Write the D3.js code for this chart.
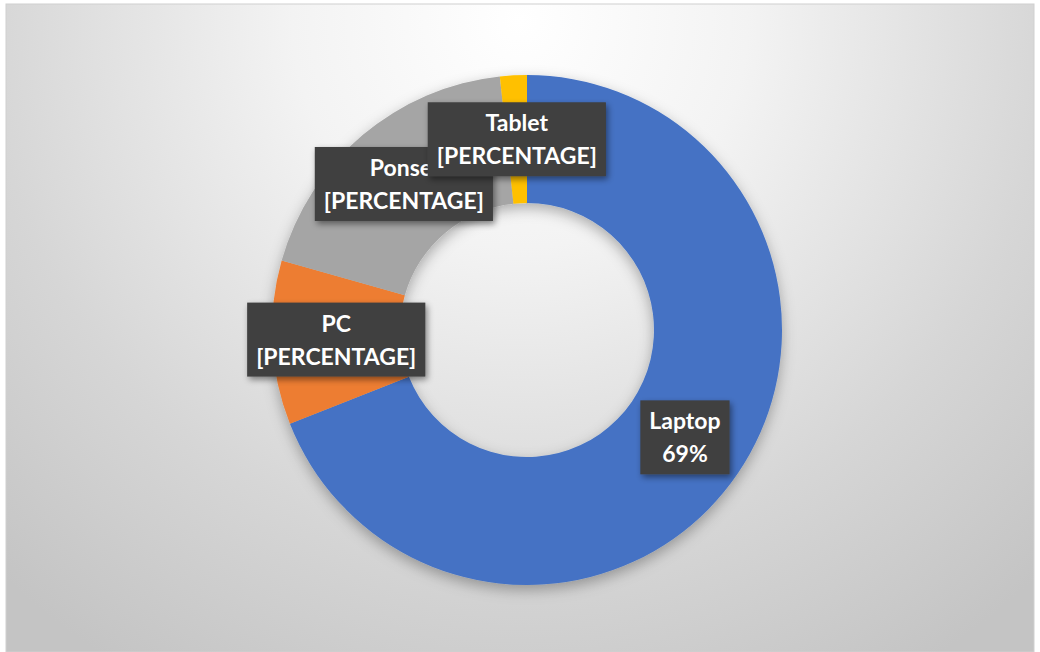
<!DOCTYPE html>
<html>
<head>
<meta charset="utf-8">
<script src="https://cdn.jsdelivr.net/npm/d3@7"></script>
<style>
  html, body { margin: 0; padding: 0; background: #fff; }
  svg { display: block; }
</style>
</head>
<body>
<svg width="1040" height="652"></svg>
<script>
const categories = ["Laptop", "PC", "Ponsel", "Tablet"];
const values = [69.0, 10.4, 18.9, 1.7];
const valueLabels = ["69%", "[PERCENTAGE]", "[PERCENTAGE]", "[PERCENTAGE]"];
const colors = ["#4472C4", "#ED7D31", "#A5A5A5", "#FFC000"];

const width = 1040, height = 652;
const cx = 527, cy = 330;
const outerR = 255, innerR = 127;

const svg = d3.select("svg");
const defs = svg.append("defs");

// background gradient, white on top, grey toward the edges
const bg = defs.append("radialGradient")
    .attr("id", "bg")
    .attr("gradientUnits", "userSpaceOnUse")
    .attr("cx", 520).attr("cy", 20).attr("r", 760);
bg.append("stop").attr("offset", "0").attr("stop-color", "#ffffff");
bg.append("stop").attr("offset", "0.3").attr("stop-color", "#f3f3f3");
bg.append("stop").attr("offset", "0.7").attr("stop-color", "#d6d6d6");
bg.append("stop").attr("offset", "1").attr("stop-color", "#c4c4c4");

const ringShadow = defs.append("filter").attr("id", "ringShadow")
    .attr("x", "-20%").attr("y", "-20%").attr("width", "140%").attr("height", "140%");
ringShadow.append("feDropShadow")
    .attr("dx", 0).attr("dy", 5).attr("stdDeviation", 7)
    .attr("flood-color", "#000").attr("flood-opacity", 0.3);

const boxShadow = defs.append("filter").attr("id", "boxShadow")
    .attr("x", "-20%").attr("y", "-30%").attr("width", "140%").attr("height", "160%");
boxShadow.append("feDropShadow")
    .attr("dx", 2).attr("dy", 3).attr("stdDeviation", 3)
    .attr("flood-color", "#000").attr("flood-opacity", 0.45);

svg.append("rect")
    .attr("x", 6).attr("y", 4)
    .attr("width", width - 12).attr("height", height - 4)
    .attr("fill", "url(#bg)")
    .attr("stroke", "#d0d0d0")
    .attr("stroke-width", 1);

const pie = d3.pie().sort(null).value(d => d);
const arcs = pie(values);

const arc = d3.arc().innerRadius(innerR).outerRadius(outerR);

const g = svg.append("g").attr("transform", `translate(${cx},${cy})`);

g.append("g")
    .attr("filter", "url(#ringShadow)")
    .selectAll("path")
    .data(arcs)
    .join("path")
    .attr("d", arc)
    .attr("fill", (d, i) => colors[i]);

// data labels, one dark box per slice at the arc centroid
const labels = g.selectAll("g.label")
    .data(arcs)
    .join("g")
    .attr("class", "label")
    .attr("transform", d => `translate(${arc.centroid(d)})`);

const box = labels.append("rect")
    .attr("fill", "#404040")
    .attr("filter", "url(#boxShadow)");

const txt = labels.append("text")
    .attr("text-anchor", "middle")
    .attr("fill", "#ffffff")
    .style("font-family", "Lato, 'Open Sans', sans-serif")
    .style("font-weight", "bold")
    .style("font-size", "23px");

txt.append("tspan").attr("x", 0).attr("y", -8).text((d, i) => categories[i]);
txt.append("tspan").attr("x", 0).attr("y", 25).text((d, i) => valueLabels[i]);

txt.each(function () {
    const b = this.getBBox();
    const w = b.width + 18;
    d3.select(this.previousSibling)
        .attr("x", -w / 2).attr("y", -37)
        .attr("width", w).attr("height", 74);
});
</script>
</body>
</html>
